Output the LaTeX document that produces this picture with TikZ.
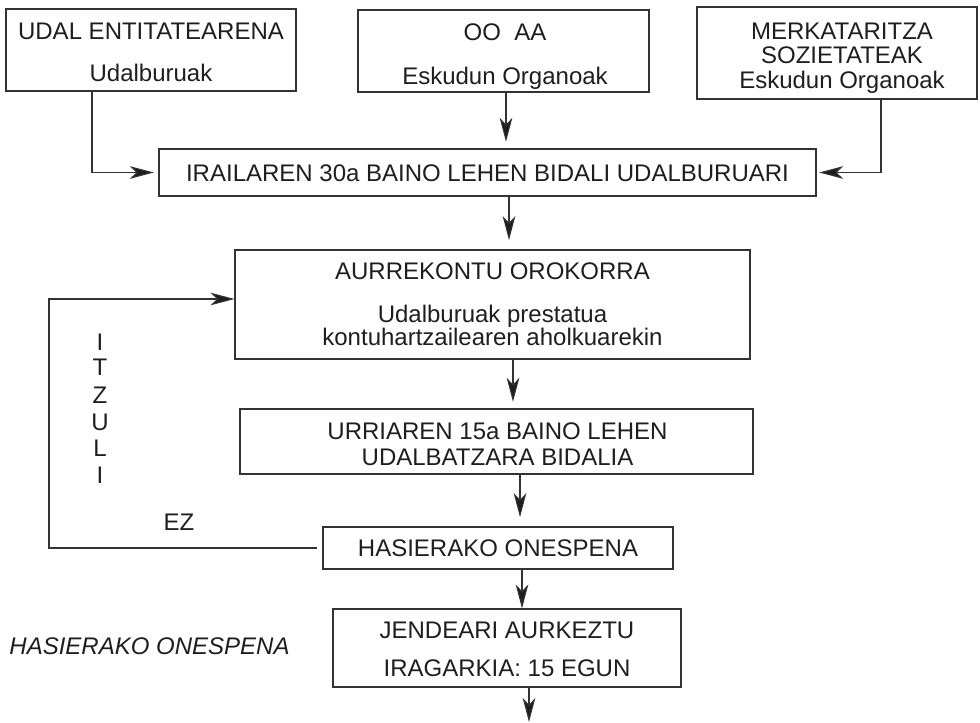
\documentclass[tikz,border=0pt]{standalone}
\usepackage{fontspec}
\setmainfont{Liberation Sans}
\usetikzlibrary{arrows.meta,fit}
\definecolor{ink}{HTML}{1E1E1E}
\definecolor{rule}{HTML}{333333}
\tikzset{
  box/.style={draw=rule, line width=0.8pt, inner sep=0pt, rectangle},
  txt/.style={inner sep=0pt, text=ink, text height=12.9pt, text depth=0pt,
              font=\fontsize{18pt}{22pt}\selectfont},
  itxt/.style={txt, font=\fontsize{18pt}{22pt}\selectfont\itshape},
  arr/.style={draw=rule, line width=0.8pt,
              -{Stealth[length=18pt,width=9.5pt,inset=5pt,fill=ink]}},
}
\begin{document}
\begin{tikzpicture}[x=0.75pt,y=-0.75pt]
\useasboundingbox (0,0) rectangle (980,723);

% boxes
\node[box, fit={(6,9) (296,91)}]      (b1)    {};
\node[box, fit={(358,10) (649,92)}]   (b2)    {};
\node[box, fit={(697,7) (977,99)}]    (b3)    {};
\node[box, fit={(159,149) (816,196)}] (irai)  {};
\node[box, fit={(235,250) (750,359)}] (aurre) {};
\node[box, fit={(240,409) (753,474)}] (urri)  {};
\node[box, fit={(323,527) (673,569)}] (hasi)  {};
\node[box, fit={(333,609) (681,687)}] (jend)  {};

% box texts
\node[txt] (b1a) at (151,31)   {UDAL ENTITATEARENA};
\node[txt] (b1b) at (151,72.5) {Udalburuak};
\node[txt] (b2a) at (505,32)   {OO\ \ AA};
\node[txt] (b2b) at (505,75.5) {Eskudun Organoak};
\node[txt] (b3a) at (842,30.5) {MERKATARITZA};
\node[txt] (b3b) at (842,55)   {SOZIETATEAK};
\node[txt] (b3c) at (842,79.5) {Eskudun Organoak};
\node[txt] (ia)  at (487.5,172.5) {IRAILAREN 30a BAINO LEHEN BIDALI UDALBURUARI};
\node[txt] (aa)  at (492.5,271) {AURREKONTU OROKORRA};
\node[txt] (ab)  at (492.5,314) {Udalburuak prestatua};
\node[txt] (ac)  at (492.5,337) {kontuhartzailearen aholkuarekin};
\node[txt] (ua)  at (497.5,430.5) {URRIAREN 15a BAINO LEHEN};
\node[txt] (ub)  at (497.5,456.5) {UDALBATZARA BIDALIA};
\node[txt] (ha)  at (498,548) {HASIERAKO ONESPENA};
\node[txt] (ja)  at (507,630) {JENDEARI AURKEZTU};
\node[txt] (jb)  at (507,667.5) {IRAGARKIA: 15 EGUN};

% free labels
\node[txt] (it1) at (100,341.5) {I};
\node[txt] (it2) at (100,367)   {T};
\node[txt] (it3) at (100,394.5) {Z};
\node[txt] (it4) at (100,422)   {U};
\node[txt] (it5) at (100,448)   {L};
\node[txt] (it6) at (100,475)   {I};
\node[txt] (ez)  at (179,522)   {EZ};
\node[itxt] (side) at (149.5,645.5) {HASIERAKO ONESPENA};

% connector columns
\coordinate (x1) at (92,0);
\coordinate (x2) at (506,0);
\coordinate (x3) at (881,0);
\coordinate (x4) at (509,0);
\coordinate (x5) at (513,0);
\coordinate (x6) at (520,0);
\coordinate (x7) at (522,0);
\coordinate (endpt) at (529,722);
\coordinate (lp) at (49,299);

% connectors
\draw[arr, shorten >=3.5pt] (b1.south -| x1) |- (irai.west);
\draw[arr, shorten >=5pt]   (b2.south -| x2) -- (irai.north -| x2);
\draw[arr, shorten >=2pt]   (b3.south -| x3) |- (irai.east);
\draw[arr, shorten >=7pt]   (irai.south -| x4) -- (aurre.north -| x4);
\draw[arr, shorten >=5pt]   (aurre.south -| x5) -- (urri.north -| x5);
\draw[arr, shorten >=7pt]   (urri.south -| x6) -- (hasi.north -| x6);
\draw[arr]                  (hasi.south -| x7) -- (jend.north -| x7);
\draw[arr]                  (jend.south -| endpt) -- (endpt);
\draw[arr, shorten <=4pt]   (hasi.west) -| (lp) -- (aurre.west |- lp);
\end{tikzpicture}
\end{document}
